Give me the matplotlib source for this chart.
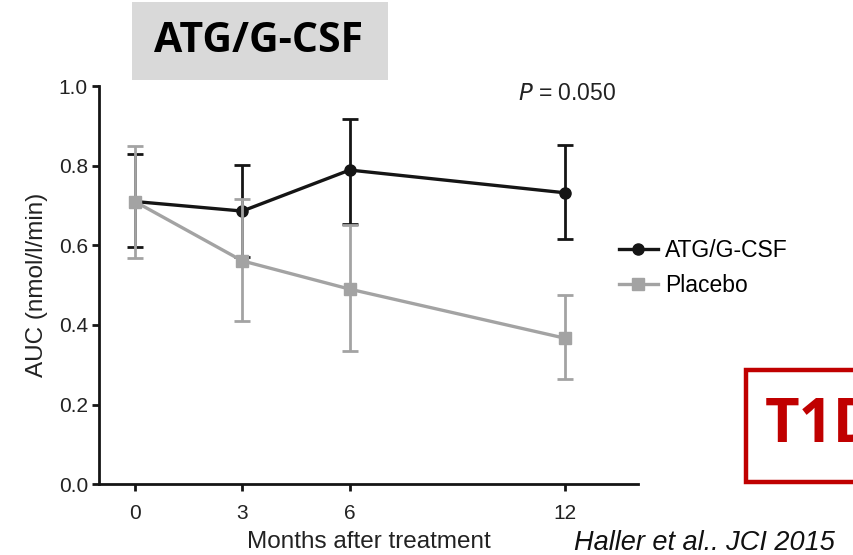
import matplotlib
matplotlib.use("Agg")
import matplotlib.pyplot as plt
from matplotlib.patches import Rectangle
from matplotlib.lines import Line2D

# Data: AUC (nmol/l/min) by months after treatment
months = [0, 3, 6, 12]
atg_mean = [0.710, 0.686, 0.789, 0.732]
atg_upper = [0.829, 0.802, 0.917, 0.852]
atg_lower = [0.595, 0.570, 0.653, 0.616]
placebo_mean = [0.710, 0.561, 0.490, 0.367]
placebo_upper = [0.850, 0.716, 0.651, 0.476]
placebo_lower = [0.569, 0.410, 0.335, 0.264]
x_ticks = [0, 3, 6, 12]
y_ticks = [0.0, 0.2, 0.4, 0.6, 0.8, 1.0]
series_labels = ["ATG/G-CSF", "Placebo"]

BLACK = "#151515"
GRAY = "#a3a3a3"
RED = "#c00000"
TEXT = "#222222"

plt.rcParams["font.family"] = ["Liberation Sans", "DejaVu Sans"]

fig = plt.figure(figsize=(8.54, 5.55), dpi=100)
ax = fig.add_axes([99 / 854, 70.7 / 555, 539 / 854, 398.3 / 555])

def err(mean, up, lo):
    return [[m - l for m, l in zip(mean, lo)], [u - m for u, m in zip(up, mean)]]

ax.errorbar(months, atg_mean, yerr=err(atg_mean, atg_upper, atg_lower),
            color=BLACK, lw=2.4, marker="o", ms=8, capsize=5.5, capthick=2,
            elinewidth=2, zorder=3, clip_on=False)
ax.errorbar(months, placebo_mean, yerr=err(placebo_mean, placebo_upper, placebo_lower),
            color=GRAY, lw=2.4, marker="s", ms=8, capsize=5.5, capthick=2,
            elinewidth=2, zorder=4, clip_on=False)

ax.set_xlim(-1.0, 14.05)
ax.set_ylim(0, 1.0)
ax.set_xticks(x_ticks)
ax.set_xticklabels([str(t) for t in x_ticks], fontsize=15, color=TEXT)
ax.set_yticks(y_ticks)
ax.set_yticklabels([f"{t:.1f}" for t in y_ticks], fontsize=15, color=TEXT)
for s in ["top", "right"]:
    ax.spines[s].set_visible(False)
for s in ["left", "bottom"]:
    ax.spines[s].set_linewidth(2.0)
    ax.spines[s].set_color(BLACK)
ax.tick_params(direction="out", length=5, width=2, color=BLACK, pad=3)
ax.tick_params(axis="x", pad=9)
ax.set_xlabel("Months after treatment", fontsize=17.5, color=TEXT, labelpad=6)
ax.set_ylabel("AUC (nmol/l/min)", fontsize=17.5, color=TEXT, labelpad=8)

ax.text(0.868, 0.982, "$P$ = 0.050", transform=ax.transAxes, fontsize=16.5,
        color=TEXT, ha="center", va="center")

# Legend
handles = [Line2D([], [], color=BLACK, lw=2.4, marker="o", ms=8),
           Line2D([], [], color=GRAY, lw=2.4, marker="s", ms=8)]
fig.legend(handles, series_labels, loc="center left",
           bbox_to_anchor=(619 / 854, 1 - 268 / 555), frameon=False,
           fontsize=16.5, handlelength=1.7, handletextpad=0.3, labelspacing=0.5,
           borderaxespad=0, borderpad=0)

# Title box
fig.patches.append(Rectangle((132 / 854, 1 - 80 / 555), 256 / 854, 78 / 555,
                             transform=fig.transFigure, facecolor="#d9d9d9",
                             edgecolor="none", zorder=0))
fig.text(259 / 854, 1 - 42 / 555, "ATG/G-CSF", fontsize=29.5, fontweight="bold",
         family=["Open Sans", "DejaVu Sans"], ha="center", va="center", color="black")

# Red T1D badge
fig.patches.append(Rectangle((746 / 854, 1 - 482 / 555), 130 / 854, 112 / 555,
                             transform=fig.transFigure, facecolor="white",
                             edgecolor=RED, lw=3.2, zorder=1))
fig.text(765 / 854, 1 - 427 / 555, "T1D", fontsize=43, fontweight="bold",
         family=["Open Sans", "DejaVu Sans"], ha="left", va="center", color=RED)

# Citation
fig.text(835 / 854, 1 - 543 / 555, "Haller et al.. JCI 2015", fontsize=19.5,
         style="italic", ha="right", va="center", color="#111111")

fig.savefig("out.png", dpi=100)
